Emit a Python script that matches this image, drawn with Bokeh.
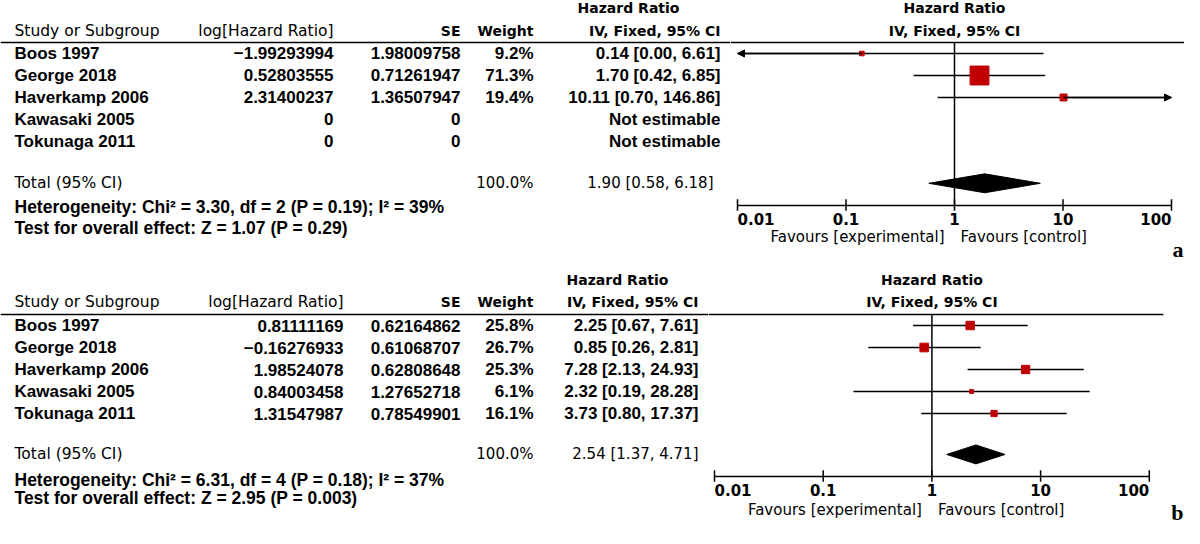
import math
from bokeh.plotting import figure
from bokeh.layouts import column, row
from bokeh.models import Range1d, ColumnDataSource, Arrow, NormalHead
from bokeh.core.properties import value
from bokeh.embed import file_html
from bokeh.resources import INLINE

# ---------------- data ----------------
STUDIES = ["Boos 1997", "George 2018", "Haverkamp 2006", "Kawasaki 2005", "Tokunaga 2011"]

# panel a
LOG_HR_A = [-1.99293994, 0.52803555, 2.31400237, 0, 0]
SE_A = [1.98009758, 0.71261947, 1.36507947, 0, 0]
WEIGHT_A = [9.2, 71.3, 19.4, None, None]
HR_A = [0.14, 1.70, 10.11, None, None]
LO_A = [0.00, 0.42, 0.70, None, None]
HI_A = [6.61, 6.85, 146.86, None, None]
TOTAL_A = (1.90, 0.58, 6.18)
HET_A = "Heterogeneity: Chi² = 3.30, df = 2 (P = 0.19); I² = 39%"
TEST_A = "Test for overall effect: Z = 1.07 (P = 0.29)"

# panel b
LOG_HR_B = [0.81111169, -0.16276933, 1.98524078, 0.84003458, 1.31547987]
SE_B = [0.62164862, 0.61068707, 0.62808648, 1.27652718, 0.78549901]
WEIGHT_B = [25.8, 26.7, 25.3, 6.1, 16.1]
HR_B = [2.25, 0.85, 7.28, 2.32, 3.73]
LO_B = [0.67, 0.26, 2.13, 0.19, 0.80]
HI_B = [7.61, 2.81, 24.93, 28.28, 17.37]
TOTAL_B = (2.54, 1.37, 4.71)
HET_B = "Heterogeneity: Chi² = 6.31, df = 4 (P = 0.18); I² = 37%"
TEST_B = "Test for overall effect: Z = 2.95 (P = 0.003)"

TICKS = [0.01, 0.1, 1, 10, 100]
TICK_LABELS = ["0.01", "0.1", "1", "10", "100"]
AX_MIN, AX_MAX = TICKS[0], TICKS[-1]

# ---------------- style ----------------
HEAD_FONT = "DejaVu Sans"
DATA_FONT = "Liberation Sans"
RED = "#C00000"
HEAD_SIZE = "15.5px"


def fmt_num(v):
    if v == 0:
        return "0"
    return f"{v:.8f}".replace("-", "\u2212")


def fmt_hr(h, l, u):
    if h is None:
        return "Not estimable"
    return f"{h:.2f} [{l:.2f}, {u:.2f}]"


def txt(p, x, y, text, align="left", font=DATA_FONT, size="17px", style="bold",
        color="black", baseline="middle", x_offset=0):
    src = ColumnDataSource(dict(x=list(x), y=list(y), t=list(text)))
    p.text(x="x", y="y", text="t", source=src, text_align=align, text_baseline=baseline,
           text_font=value(font), text_font_size=value(size), text_font_style=style,
           text_color=color, x_offset=x_offset)


def make_panel(cfg):
    n = len(STUDIES)
    rows_y = list(range(n))
    H = cfg["height"]
    hy2, hy1 = cfg["hy2"], cfg["hy1"]

    # ---------- table ----------
    t = figure(width=cfg["table_w"], height=H, x_range=Range1d(0, cfg["table_w"]),
               y_range=Range1d(cfg["y_bot"], cfg["y_top"]), toolbar_location=None,
               output_backend="svg", x_axis_location=None, y_axis_location=None,
               min_border=0, outline_line_color=None)
    t.grid.visible = False

    txt(t, [cfg["study_x"]], [hy1], ["Study or Subgroup"], "left", HEAD_FONT, HEAD_SIZE, "normal")
    txt(t, [cfg["log_x"]], [hy1], ["log[Hazard Ratio]"], "right", HEAD_FONT, HEAD_SIZE, "normal")
    txt(t, [cfg["se_x"], cfg["w_x"]], [hy1, hy1], ["SE", "Weight"], "right", HEAD_FONT, "14px", "bold")
    txt(t, [cfg["hrh_x"]], [hy2], ["Hazard Ratio"], "center", HEAD_FONT, "14px", "bold")
    txt(t, [cfg["hr_x"]], [hy1], ["IV, Fixed, 95% CI"], "right", HEAD_FONT, "14px", "bold")
    t.segment(x0=[0], y0=[-0.5], x1=[cfg["table_w"]], y1=[-0.5], line_color="black", line_width=1.5)

    txt(t, [cfg["study_x"]] * n, rows_y, STUDIES, "left")
    txt(t, [cfg["log_x"]] * n, rows_y, [fmt_num(v) for v in cfg["log_hr"]], "right")
    txt(t, [cfg["se_x"]] * n, rows_y, [fmt_num(v) for v in cfg["se"]], "right")
    wi = [i for i in range(n) if cfg["weight"][i] is not None]
    txt(t, [cfg["w_x"]] * len(wi), wi, [f"{cfg['weight'][i]:.1f}%" for i in wi], "right")
    txt(t, [cfg["hr_x"]] * n, rows_y,
        [fmt_hr(cfg["hr"][i], cfg["lo"][i], cfg["hi"][i]) for i in range(n)], "right")

    ty = cfg["total_y"]
    txt(t, [cfg["study_x"]], [ty], ["Total (95% CI)"], "left", HEAD_FONT, HEAD_SIZE, "normal")
    txt(t, [cfg["w_x"]], [ty], ["100.0%"], "right", HEAD_FONT, "15px", "normal")
    txt(t, [cfg["tot_x"]], [ty], [fmt_hr(*cfg["total"])], "right", HEAD_FONT, "15px", "normal")
    txt(t, [cfg["study_x"]], [cfg["het_y"]], [cfg["het"]], "left", size="17.5px")
    txt(t, [cfg["study_x"]], [cfg["test_y"]], [cfg["test"]], "left", size="17.5px")

    # ---------- forest ----------
    fw = cfg["forest_w"]
    f = figure(width=fw, height=H, x_axis_type="log",
               x_range=Range1d(10 ** cfg["lx0"], 10 ** cfg["lx1"]),
               y_range=Range1d(cfg["y_bot"], cfg["y_top"]), toolbar_location=None,
               output_backend="svg", x_axis_location=None, y_axis_location=None,
               min_border=0, outline_line_color=None)
    f.grid.visible = False

    txt(f, [1], [hy2], ["Hazard Ratio"], "center", HEAD_FONT, "14px", "bold")
    txt(f, [1], [hy1], ["IV, Fixed, 95% CI"], "center", HEAD_FONT, "14px", "bold")
    f.segment(x0=[10 ** cfg["lx0"]], y0=[-0.5], x1=[10 ** 2.13], y1=[-0.5], line_color="black", line_width=1.5)
    ay = cfg["axis_y"]
    f.segment(x0=[1], y0=[-0.5], x1=[1], y1=[ay], line_color="black", line_width=1.5)

    # axis drawn on the log scale
    f.segment(x0=[AX_MIN], y0=[ay], x1=[AX_MAX], y1=[ay], line_color="black", line_width=1.5)
    f.segment(x0=TICKS, y0=[ay - 0.28] * len(TICKS), x1=TICKS, y1=[ay + 0.24] * len(TICKS),
              line_color="black", line_width=1.5)
    aligns = ["left"] + ["center"] * (len(TICKS) - 2) + ["right"]
    for tk, lab, al in zip(TICKS, TICK_LABELS, aligns):
        txt(f, [tk], [ay + 0.6], [lab], al, HEAD_FONT, "15px", "bold")

    idx = [i for i in range(n) if cfg["hr"][i] is not None]
    x0 = [max(cfg["lo"][i], AX_MIN) for i in idx]
    x1 = [min(cfg["hi"][i], AX_MAX) for i in idx]
    f.segment(x0=x0, y0=idx, x1=x1, y1=idx, line_color="black", line_width=1.3)
    for i in idx:
        if cfg["lo"][i] < AX_MIN:
            f.add_layout(Arrow(x_start=cfg["hr"][i], y_start=i, x_end=AX_MIN, y_end=i, line_width=1.3,
                               end=NormalHead(size=7, fill_color="black", line_color="black")))
        if cfg["hi"][i] > AX_MAX:
            f.add_layout(Arrow(x_start=cfg["hr"][i], y_start=i, x_end=AX_MAX, y_end=i, line_width=1.3,
                               end=NormalHead(size=7, fill_color="black", line_color="black")))
    sizes = [2.5 + 0.23 * cfg["weight"][i] for i in idx]
    f.scatter(x=[cfg["hr"][i] for i in idx], y=idx, marker="square", size=sizes,
              fill_color=RED, line_color=RED)

    est, lo, hi = cfg["total"]
    dh = 0.43
    f.patch(x=[lo, est, hi, est], y=[ty, ty - dh, ty, ty + dh], fill_color="black", line_color="black")

    fav_y = ay + cfg["fav_dy"]
    txt(f, [1], [fav_y], ["Favours [experimental]"], "right", HEAD_FONT, "15px", "normal", x_offset=-10)
    txt(f, [1], [fav_y], ["Favours [control]"], "left", HEAD_FONT, "15px", "normal", x_offset=6)
    txt(f, [10 ** cfg["lx1"]], [cfg["let_y"]], [cfg["letter"]], "right", "Liberation Serif", "22px", "bold",
        x_offset=-1)
    return row(t, f)


cfg_a = dict(height=264, y_top=-2.409, y_bot=9.591, axis_y=6.909, hy2=-2.05, hy1=-1.0,
             table_w=730, forest_w=454, lx0=-2.0645, lx1=2.1198,
             study_x=14, log_x=333, se_x=460, w_x=533, hr_x=720, tot_x=713, hrh_x=628,
             log_hr=LOG_HR_A, se=SE_A, weight=WEIGHT_A, hr=HR_A, lo=LO_A, hi=HI_A,
             total=TOTAL_A, het=HET_A, test=TEST_A, total_y=5.9, het_y=7.0, test_y=7.95,
             fav_dy=1.45, let_y=8.9, letter="a")
cfg_b = dict(height=264, y_top=-2.773, y_bot=9.227, axis_y=6.864, hy2=-2.05, hy1=-1.05,
             table_w=708, forest_w=476, lx0=-2.0552, lx1=2.3238,
             study_x=14, log_x=343, se_x=460, w_x=533, hr_x=698, tot_x=698, hrh_x=617,
             log_hr=LOG_HR_B, se=SE_B, weight=WEIGHT_B, hr=HR_B, lo=LO_B, hi=HI_B,
             total=TOTAL_B, het=HET_B, test=TEST_B, total_y=5.86, het_y=7.0, test_y=7.86,
             fav_dy=1.5, let_y=8.5, letter="b")

layout = column(make_panel(cfg_a), make_panel(cfg_b))
open("out.html", "w").write(file_html(layout, INLINE))
